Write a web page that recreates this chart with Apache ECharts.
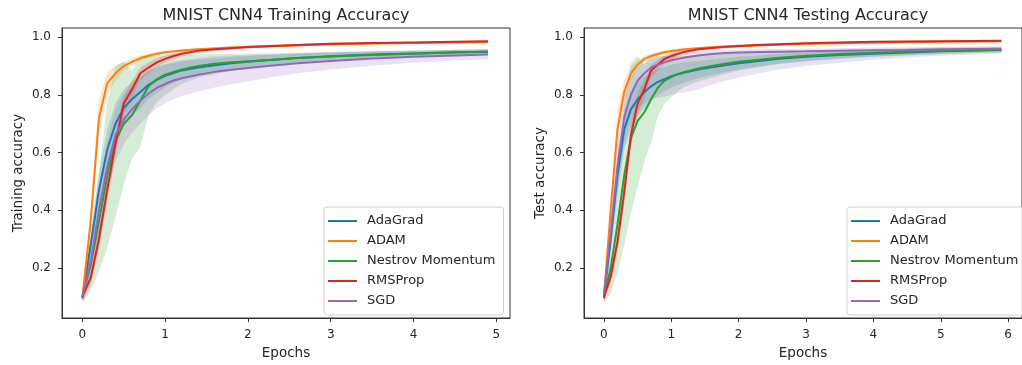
<!DOCTYPE html>
<html><head><meta charset="utf-8">
<script src="https://cdn.jsdelivr.net/npm/echarts@6/dist/echarts.min.js"></script>
<style>html,body{margin:0;padding:0;background:#fff}#c{width:1022px;height:365px}</style>
</head><body><div id="c"></div>
<script>
const names = ['AdaGrad', 'ADAM', 'Nestrov Momentum', 'RMSProp', 'SGD'];
const colors = ['#1f77b4', '#ff7f0e', '#2ca02c', '#d62728', '#9467bd'];
const titles = ['MNIST CNN4 Training Accuracy', 'MNIST CNN4 Testing Accuracy'];
const yNames = ['Training accuracy', 'Test accuracy'];
const xTicksTrain = [0, 1, 2, 3, 4, 5];
const xTicksTest = [0, 1, 2, 3, 4, 5, 6];
const yTicks = [0.2, 0.4, 0.6, 0.8, 1.0];

// ---- Training panel (epochs) ----
const epochsTrain = [0,0.1,0.2,0.3,0.4,0.5,0.6,0.7,0.8,0.9,1.0,1.1,1.2,1.4,1.6,1.8,2.0,2.3,2.6,3.0,3.5,4.0,4.5,4.9];
const adaTrain   = [0.095,0.28,0.47,0.61,0.70,0.755,0.785,0.81,0.835,0.852,0.866,0.876,0.885,0.895,0.903,0.91,0.915,0.922,0.928,0.934,0.94,0.944,0.948,0.95];
const adaTrainLo = [0.085,0.24,0.41,0.54,0.63,0.69,0.725,0.755,0.785,0.807,0.826,0.841,0.853,0.867,0.878,0.888,0.895,0.905,0.913,0.921,0.929,0.934,0.939,0.942];
const adaTrainHi = [0.105,0.32,0.53,0.68,0.77,0.82,0.845,0.865,0.885,0.897,0.906,0.911,0.917,0.923,0.928,0.932,0.935,0.939,0.943,0.947,0.951,0.954,0.957,0.958];
const adamTrain   = [0.10,0.36,0.72,0.84,0.875,0.90,0.915,0.927,0.936,0.943,0.948,0.951,0.954,0.958,0.961,0.964,0.966,0.969,0.972,0.975,0.978,0.980,0.982,0.983];
const adamTrainLo = [0.09,0.32,0.66,0.80,0.85,0.885,0.903,0.918,0.928,0.936,0.942,0.945,0.949,0.953,0.956,0.96,0.962,0.965,0.968,0.972,0.975,0.977,0.979,0.98];
const adamTrainHi = [0.11,0.40,0.78,0.88,0.90,0.915,0.927,0.936,0.944,0.95,0.954,0.957,0.959,0.963,0.966,0.968,0.97,0.973,0.976,0.978,0.981,0.983,0.985,0.986];
const nesTrain   = [0.10,0.21,0.36,0.52,0.64,0.70,0.73,0.78,0.83,0.855,0.87,0.88,0.888,0.90,0.908,0.913,0.917,0.922,0.928,0.933,0.938,0.943,0.947,0.95];
const nesTrainLo = [0.08,0.12,0.19,0.27,0.38,0.49,0.58,0.62,0.73,0.775,0.80,0.82,0.838,0.86,0.873,0.883,0.891,0.9,0.91,0.918,0.926,0.932,0.937,0.94];
const nesTrainHi = [0.12,0.30,0.53,0.77,0.90,0.915,0.885,0.935,0.935,0.935,0.94,0.94,0.938,0.94,0.943,0.943,0.943,0.944,0.946,0.948,0.95,0.954,0.957,0.96];
const rmsTrain   = [0.10,0.165,0.30,0.47,0.63,0.77,0.82,0.875,0.895,0.913,0.925,0.935,0.943,0.953,0.958,0.962,0.966,0.970,0.973,0.977,0.980,0.982,0.984,0.986];
const rmsTrainLo = [0.08,0.14,0.26,0.43,0.59,0.73,0.79,0.85,0.875,0.897,0.912,0.924,0.933,0.945,0.951,0.956,0.96,0.965,0.968,0.973,0.976,0.979,0.981,0.983];
const rmsTrainHi = [0.12,0.19,0.34,0.51,0.67,0.80,0.85,0.895,0.913,0.928,0.937,0.945,0.952,0.96,0.964,0.968,0.971,0.975,0.977,0.981,0.983,0.985,0.987,0.988];
const sgdTrain   = [0.10,0.22,0.40,0.55,0.66,0.715,0.75,0.78,0.805,0.825,0.838,0.85,0.858,0.87,0.88,0.887,0.893,0.902,0.91,0.918,0.926,0.932,0.937,0.94];
const sgdTrainLo = [0.09,0.17,0.32,0.46,0.57,0.63,0.67,0.70,0.73,0.755,0.77,0.785,0.796,0.812,0.826,0.837,0.847,0.862,0.875,0.888,0.901,0.912,0.919,0.924];
const sgdTrainHi = [0.11,0.27,0.48,0.64,0.75,0.80,0.83,0.86,0.88,0.895,0.906,0.915,0.92,0.928,0.934,0.937,0.939,0.942,0.945,0.948,0.951,0.952,0.955,0.956];

// ---- Testing panel ----
const epochsTest = [0,0.1,0.2,0.3,0.4,0.5,0.6,0.7,0.8,0.9,1.0,1.1,1.2,1.4,1.6,1.8,2.0,2.3,2.6,3.0,3.5,4.0,4.5,5.0,5.5,5.9];
const adaTest   = [0.095,0.30,0.52,0.68,0.75,0.785,0.81,0.83,0.845,0.855,0.865,0.872,0.878,0.888,0.896,0.903,0.91,0.918,0.925,0.932,0.938,0.943,0.947,0.951,0.954,0.956];
const adaTestLo = [0.085,0.25,0.45,0.61,0.685,0.725,0.755,0.78,0.8,0.813,0.825,0.835,0.843,0.858,0.869,0.879,0.888,0.899,0.908,0.917,0.925,0.932,0.937,0.942,0.946,0.948];
const adaTestHi = [0.105,0.35,0.59,0.75,0.815,0.845,0.865,0.88,0.89,0.897,0.905,0.909,0.913,0.918,0.923,0.927,0.932,0.937,0.942,0.947,0.951,0.954,0.957,0.96,0.962,0.964];
const adamTest   = [0.10,0.40,0.68,0.81,0.875,0.905,0.925,0.935,0.942,0.948,0.952,0.955,0.958,0.962,0.965,0.967,0.969,0.972,0.974,0.977,0.979,0.981,0.983,0.984,0.985,0.986];
const adamTestLo = [0.09,0.36,0.62,0.77,0.85,0.89,0.913,0.926,0.934,0.941,0.946,0.949,0.953,0.957,0.96,0.963,0.965,0.968,0.97,0.973,0.976,0.978,0.98,0.981,0.982,0.983];
const adamTestHi = [0.11,0.44,0.74,0.85,0.90,0.92,0.937,0.944,0.95,0.955,0.958,0.961,0.963,0.967,0.97,0.971,0.973,0.976,0.978,0.981,0.982,0.984,0.986,0.987,0.988,0.989];
const nesTest   = [0.10,0.20,0.35,0.52,0.65,0.71,0.74,0.785,0.825,0.85,0.862,0.873,0.88,0.892,0.90,0.908,0.915,0.922,0.929,0.936,0.942,0.946,0.95,0.953,0.955,0.957];
const nesTestLo = [0.08,0.11,0.18,0.28,0.39,0.48,0.57,0.635,0.725,0.77,0.792,0.813,0.828,0.847,0.86,0.873,0.885,0.896,0.907,0.918,0.927,0.933,0.938,0.942,0.945,0.947];
const nesTestHi = [0.12,0.29,0.52,0.76,0.91,0.935,0.905,0.935,0.935,0.935,0.935,0.935,0.935,0.938,0.94,0.943,0.945,0.948,0.951,0.954,0.957,0.959,0.962,0.964,0.965,0.967];
const rmsTest   = [0.10,0.17,0.29,0.46,0.66,0.77,0.82,0.885,0.905,0.925,0.935,0.943,0.95,0.958,0.963,0.967,0.970,0.973,0.976,0.979,0.982,0.984,0.985,0.986,0.987,0.988];
const rmsTestLo = [0.08,0.145,0.25,0.42,0.62,0.73,0.79,0.86,0.885,0.909,0.922,0.932,0.94,0.95,0.956,0.961,0.964,0.968,0.971,0.975,0.978,0.981,0.982,0.983,0.984,0.985];
const rmsTestHi = [0.12,0.195,0.33,0.50,0.70,0.81,0.85,0.905,0.922,0.94,0.947,0.953,0.958,0.965,0.969,0.972,0.975,0.978,0.98,0.983,0.985,0.987,0.988,0.989,0.99,0.991];
const sgdTest   = [0.11,0.32,0.55,0.72,0.80,0.85,0.875,0.895,0.905,0.913,0.92,0.925,0.93,0.937,0.942,0.945,0.947,0.949,0.95,0.951,0.953,0.955,0.956,0.958,0.959,0.96];
const sgdTestLo = [0.10,0.27,0.47,0.63,0.71,0.75,0.77,0.785,0.79,0.795,0.80,0.805,0.81,0.82,0.835,0.85,0.86,0.875,0.888,0.9,0.912,0.922,0.93,0.936,0.94,0.943];
const sgdTestHi = [0.12,0.37,0.62,0.79,0.86,0.895,0.91,0.925,0.93,0.935,0.94,0.943,0.946,0.95,0.953,0.955,0.957,0.958,0.959,0.96,0.962,0.964,0.965,0.967,0.968,0.969];

const panels = [
  {xs: epochsTrain, mean: [adaTrain, adamTrain, nesTrain, rmsTrain, sgdTrain],
   lo: [adaTrainLo, adamTrainLo, nesTrainLo, rmsTrainLo, sgdTrainLo],
   hi: [adaTrainHi, adamTrainHi, nesTrainHi, rmsTrainHi, sgdTrainHi]},
  {xs: epochsTest, mean: [adaTest, adamTest, nesTest, rmsTest, sgdTest],
   lo: [adaTestLo, adamTestLo, nesTestLo, rmsTestLo, sgdTestLo],
   hi: [adaTestHi, adamTestHi, nesTestHi, rmsTestHi, sgdTestHi]}
];

const FONT = 'DejaVu Sans';
const TXT = '#262626';
const AX = '#333';

const chart = echarts.init(document.getElementById('c'), null, {renderer: 'canvas'});

const series = [];
panels.forEach((p, g) => {
  names.forEach((n, k) => {
    const xs = p.xs, lo = p.lo[k], hi = p.hi[k];
    series.push({
      type: 'custom', name: n + ' band', xAxisIndex: g, yAxisIndex: g, silent: true,
      z: 2 + k * 0.01, clip: true,
      data: xs.map((x, i) => [x, lo[i], hi[i]]),
      encode: {x: 0, y: [1, 2]},
      renderItem: function (params, api) {
        if (params.dataIndex !== 0) return null;
        const pts = [];
        for (let i = 0; i < xs.length; i++) pts.push(api.coord([xs[i], hi[i]]));
        for (let i = xs.length - 1; i >= 0; i--) pts.push(api.coord([xs[i], lo[i]]));
        return {type: 'polygon', shape: {points: pts}, style: {fill: colors[k], opacity: 0.2}};
      }
    });
  });
  names.forEach((n, k) => {
    series.push({
      type: 'line', name: n, xAxisIndex: g, yAxisIndex: g,
      data: p.xs.map((x, i) => [x, p.mean[k][i]]),
      showSymbol: false, symbol: 'none', z: 5 + k * 0.01,
      lineStyle: {width: 2, color: colors[k]}, itemStyle: {color: colors[k]}
    });
  });
});

function xAxis(g, min, max, ticks) {
  return {
    gridIndex: g, type: 'value', min: min, max: max,
    axisLine: {show: true, onZero: false, lineStyle: {color: AX, width: 1}},
    axisTick: {show: true, length: 4, customValues: ticks, lineStyle: {color: AX}},
    axisLabel: {customValues: ticks, color: TXT, fontSize: 12, fontFamily: FONT, margin: 11},
    splitLine: {show: false},
    name: 'Epochs', nameLocation: 'middle', nameGap: 28,
    nameTextStyle: {color: TXT, fontSize: 13.5, fontFamily: FONT}
  };
}
function yAxis(g, name) {
  return {
    gridIndex: g, type: 'value', min: 0.027, max: 1.032,
    axisLine: {show: true, onZero: false, lineStyle: {color: AX, width: 1}},
    axisTick: {show: true, length: 4, customValues: yTicks, lineStyle: {color: AX}},
    axisLabel: {customValues: yTicks, color: TXT, fontSize: 12, fontFamily: FONT, margin: 11,
      formatter: v => Number(v).toFixed(1)},
    splitLine: {show: false},
    name: name, nameLocation: 'middle', nameGap: 37,
    nameTextStyle: {color: TXT, fontSize: 13.5, fontFamily: FONT}
  };
}
function legend(left) {
  return {
    data: names, orient: 'vertical', left: left, top: 207,
    icon: 'rect', itemWidth: 29, itemHeight: 2, itemGap: 0,
    padding: [4, 8, 4, 4],
    backgroundColor: 'rgba(255,255,255,0.8)', borderColor: '#d0d0d0', borderWidth: 1, borderRadius: 3,
    textStyle: {color: TXT, fontSize: 13, fontFamily: FONT, lineHeight: 20, padding: [0, 0, 0, 5]},
    selectedMode: false
  };
}

chart.setOption({
  animation: false,
  backgroundColor: '#fff',
  title: [
    {text: titles[0], left: 286, top: 8, textAlign: 'center', padding: 0,
     textStyle: {color: TXT, fontSize: 16, fontWeight: 'normal', fontFamily: FONT}},
    {text: titles[1], left: 808, top: 8, textAlign: 'center', padding: 0,
     textStyle: {color: TXT, fontSize: 16, fontWeight: 'normal', fontFamily: FONT}}
  ],
  legend: [legend(324), legend(847)],
  grid: [
    {left: 62, top: 28, width: 448, height: 290, show: true, borderColor: AX, borderWidth: 1, backgroundColor: 'transparent'},
    {left: 584, top: 28, width: 448, height: 290, show: true, borderColor: AX, borderWidth: 1, backgroundColor: 'transparent'}
  ],
  xAxis: [xAxis(0, -0.246, 5.166, xTicksTrain), xAxis(1, -0.296, 6.206, xTicksTest)],
  yAxis: [yAxis(0, yNames[0]), yAxis(1, yNames[1])],
  series: series
});
</script></body></html>
